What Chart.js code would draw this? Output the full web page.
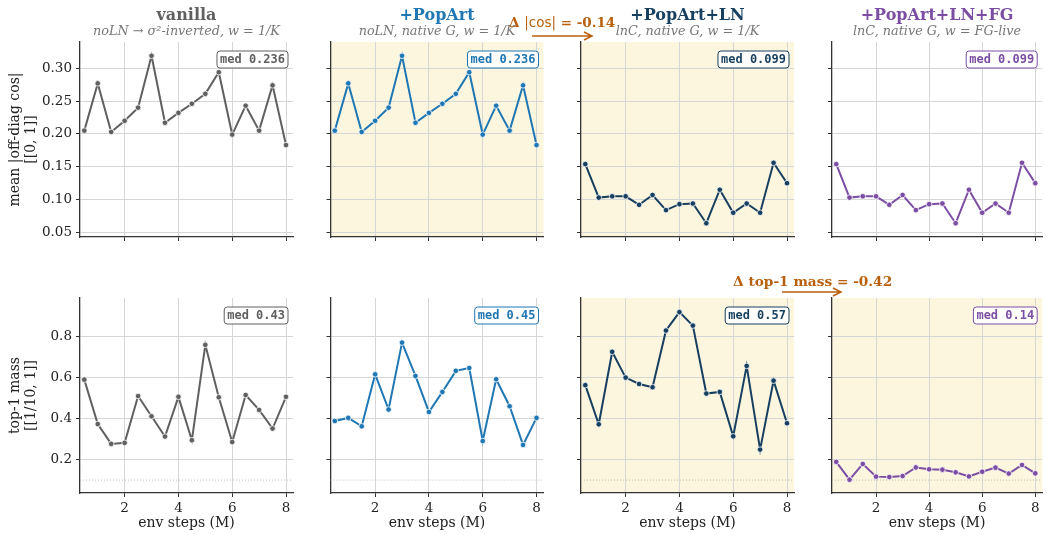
<!DOCTYPE html>
<html>
<head>
<meta charset="utf-8">
<title>Gradient direction and top-1 mass by variant</title>
<script src="https://cdn.jsdelivr.net/npm/chart.js"></script>
<style>
  html, body { margin: 0; padding: 0; background: #fff; }
  #wrap { position: relative; width: 1047px; height: 535px; }
  #wrap canvas { position: absolute; left: 0; top: 0; }
</style>
</head>
<body>
<div id="wrap"></div>
<script>
// env steps (M)
const steps = [0.5, 1, 1.5, 2, 2.5, 3, 3.5, 4, 4.5, 5, 5.5, 6, 6.5, 7, 7.5, 8];

// mean |off-diag cos|
const cosVanilla    = [0.205, 0.277, 0.203, 0.220, 0.240, 0.319, 0.217, 0.232, 0.246, 0.261, 0.294, 0.199, 0.243, 0.205, 0.274, 0.183];
const cosPopArt     = [0.205, 0.277, 0.203, 0.220, 0.240, 0.319, 0.217, 0.232, 0.246, 0.261, 0.294, 0.199, 0.243, 0.205, 0.274, 0.183];
const cosPopArtLN   = [0.154, 0.103, 0.105, 0.105, 0.092, 0.107, 0.084, 0.093, 0.094, 0.064, 0.115, 0.080, 0.094, 0.080, 0.156, 0.125];
const cosPopArtLNFG = [0.154, 0.103, 0.105, 0.105, 0.092, 0.107, 0.084, 0.093, 0.094, 0.064, 0.115, 0.080, 0.094, 0.080, 0.156, 0.125];

// top-1 mass
const massVanilla    = [0.591, 0.374, 0.277, 0.282, 0.511, 0.412, 0.313, 0.507, 0.295, 0.761, 0.505, 0.286, 0.516, 0.443, 0.352, 0.507];
const massPopArt     = [0.389, 0.404, 0.363, 0.617, 0.445, 0.772, 0.609, 0.433, 0.531, 0.634, 0.648, 0.291, 0.593, 0.461, 0.272, 0.404];
const massPopArtLN   = [0.564, 0.373, 0.727, 0.601, 0.570, 0.554, 0.831, 0.921, 0.855, 0.523, 0.531, 0.314, 0.658, 0.249, 0.586, 0.378];
const massPopArtLNFG = [0.189, 0.102, 0.179, 0.117, 0.115, 0.120, 0.162, 0.153, 0.151, 0.138, 0.118, 0.141, 0.161, 0.132, 0.174, 0.133];

const titles    = ['vanilla', '+PopArt', '+PopArt+LN', '+PopArt+LN+FG'];
const subtitles = ['noLN \u2192 \u03c3\u00b2-inverted, w = 1/K', 'noLN, native G, w = 1/K',
                   'lnC, native G, w = 1/K', 'lnC, native G, w = FG-live'];
const colors    = ['#606060', '#1f77b4', '#173f5f', '#7b4ea3'];
const medCos    = ['0.236', '0.236', '0.099', '0.099'];
const medMass   = ['0.43', '0.45', '0.57', '0.14'];
const shadeCos  = [false, true, true, false];
const shadeMass = [false, false, true, true];

const xTicks    = [2, 4, 6, 8];
const cosTicks  = [0.05, 0.10, 0.15, 0.20, 0.25, 0.30];
const massTicks = [0.2, 0.4, 0.6, 0.8];
const massFloor = 0.1;   // 1/10 uniform level

const cosSeries  = [cosVanilla, cosPopArt, cosPopArtLN, cosPopArtLNFG];
const massSeries = [massVanilla, massPopArt, massPopArtLN, massPopArtLNFG];

// page layout
const W = 1047, H = 535;
const colLeft = [80, 330.5, 581, 832];
const rowTop = [42, 298];
const panelW = 213, panelH = 195;
const yAxisW = 40, xAxisH = 30;
const ORANGE = '#b8600e';

const deco = {
  id: 'deco',
  beforeDraw(chart, args, o) {
    if (!o.shaded) return;
    const { ctx, chartArea: a } = chart;
    ctx.save();
    ctx.fillStyle = '#fdf6df';
    ctx.fillRect(a.left, a.top, a.right - a.left, a.bottom - a.top);
    ctx.restore();
  },
  beforeDatasetsDraw(chart, args, o) {
    if (o.floor == null) return;
    const { ctx, chartArea: a } = chart;
    const y = chart.scales.y.getPixelForValue(o.floor);
    ctx.save();
    ctx.strokeStyle = '#b0b0b0';
    ctx.lineWidth = 0.8;
    ctx.setLineDash([1, 2]);
    ctx.beginPath();
    ctx.moveTo(a.left, y);
    ctx.lineTo(a.right, y);
    ctx.stroke();
    ctx.restore();
  },
  afterDraw(chart, args, o) {
    const { ctx, chartArea: a } = chart;
    const cx = (a.left + a.right) / 2;
    ctx.save();
    if (o.title) {
      ctx.textAlign = 'center';
      ctx.textBaseline = 'alphabetic';
      ctx.fillStyle = o.color;
      ctx.font = 'bold 16px "DejaVu Serif"';
      ctx.fillText(o.title, cx, 20);
      ctx.fillStyle = '#777';
      ctx.font = 'italic 12.8px "DejaVu Serif"';
      ctx.fillText(o.subtitle, cx, 35);
    }
    // median box
    ctx.font = 'bold 12px "DejaVu Sans Mono"';
    const txt = 'med ' + o.med;
    const bw = ctx.measureText(txt).width + 6, bh = 17;
    const bx = a.right - 5 - bw, by = a.top + 9;
    ctx.beginPath();
    ctx.roundRect(bx, by, bw, bh, 3);
    ctx.fillStyle = 'rgba(255,255,255,0.9)';
    ctx.fill();
    ctx.strokeStyle = o.color;
    ctx.lineWidth = 1;
    ctx.stroke();
    ctx.fillStyle = o.color;
    ctx.textAlign = 'left';
    ctx.textBaseline = 'middle';
    ctx.fillText(txt, bx + 3, by + bh / 2 + 0.5);
    // axis labels
    ctx.fillStyle = '#222';
    ctx.font = '14px "DejaVu Serif"';
    ctx.textAlign = 'center';
    if (o.yLabel) {
      ctx.save();
      ctx.translate(15, (a.top + a.bottom) / 2);
      ctx.rotate(-Math.PI / 2);
      ctx.textBaseline = 'middle';
      ctx.fillText(o.yLabel[0], 0, 0);
      ctx.fillText(o.yLabel[1], 0, 16);
      ctx.restore();
    }
    if (o.xLabel) {
      ctx.textBaseline = 'middle';
      ctx.fillText(o.xLabel, cx, 523);
    }
    // delta annotations
    (o.notes || []).forEach(n => {
      ctx.fillStyle = ORANGE;
      ctx.textAlign = 'left';
      ctx.textBaseline = 'middle';
      let x = n.x;
      n.parts.forEach(p => {
        ctx.font = p.font;
        ctx.fillText(p.t, x, n.y);
        x += ctx.measureText(p.t).width;
      });
      ctx.strokeStyle = ORANGE;
      ctx.lineWidth = 1.5;
      ctx.beginPath();
      ctx.moveTo(n.ax1, n.ay);
      ctx.lineTo(n.ax2, n.ay);
      ctx.moveTo(n.ax2 - 8, n.ay - 4);
      ctx.lineTo(n.ax2, n.ay);
      ctx.lineTo(n.ax2 - 8, n.ay + 4);
      ctx.stroke();
    });
    ctx.restore();
  }
};

const notes = [
  { x: 509, y: 23, ax1: 532, ax2: 592, ay: 36,
    parts: [{ t: '\u0394 ', font: 'bold 13.5px "DejaVu Serif"' },
            { t: '|cos|', font: '13.5px "DejaVu Sans"' },
            { t: ' = -0.14', font: 'bold 13.5px "DejaVu Serif"' }] },
  { x: 733, y: 282, ax1: 782, ax2: 841, ay: 292,
    parts: [{ t: '\u0394 top-1 mass = -0.42', font: 'bold 13.7px "DejaVu Serif"' }] }
];

function makePanel(row, col) {
  const canvas = document.createElement('canvas');
  canvas.width = W; canvas.height = H;
  document.getElementById('wrap').appendChild(canvas);
  const top = row === 0;
  const values = top ? cosSeries[col] : massSeries[col];
  const yTicks = top ? cosTicks : massTicks;
  const color = colors[col];
  const last = row === 1 && col === 3;

  new Chart(canvas.getContext('2d'), {
    type: 'line',
    data: {
      datasets: [{
        data: steps.map((s, i) => ({ x: s, y: values[i] })),
        borderColor: color,
        backgroundColor: color,
        borderWidth: 2,
        pointRadius: 2.8,
        pointBorderColor: '#fff',
        pointBorderWidth: 0.8,
        pointBackgroundColor: color,
        tension: 0,
        fill: false
      }]
    },
    options: {
      responsive: false,
      animation: false,
      devicePixelRatio: 1,
      layout: {
        padding: {
          left: colLeft[col] - yAxisW,
          right: W - colLeft[col] - panelW,
          top: rowTop[row],
          bottom: H - rowTop[row] - panelH - xAxisH
        }
      },
      scales: {
        x: {
          type: 'linear',
          min: 0.34, max: 8.26,
          afterBuildTicks: s => { s.ticks = xTicks.map(v => ({ value: v })); },
          afterFit: s => { s.height = xAxisH; },
          grid: { color: '#d6d6d6', lineWidth: 1, tickColor: '#333', tickLength: 4 },
          border: { display: true, color: '#333', width: 1.3 },
          ticks: {
            display: !top,
            padding: 3,
            color: '#222',
            font: { family: 'DejaVu Serif', size: 13.5 },
            callback: v => String(v)
          }
        },
        y: {
          min: top ? 0.043 : 0.037,
          max: top ? 0.34 : 0.99,
          afterBuildTicks: s => { s.ticks = yTicks.map(v => ({ value: v })); },
          afterFit: s => { s.width = yAxisW; },
          grid: { color: '#d6d6d6', lineWidth: 1, tickColor: '#333', tickLength: 4 },
          border: { display: true, color: '#333', width: 1.3 },
          ticks: {
            display: col === 0,
            padding: 4,
            color: '#222',
            font: { family: 'DejaVu Serif', size: 13.5 },
            callback: v => v.toFixed(top ? 2 : 1)
          }
        }
      },
      plugins: {
        legend: { display: false },
        tooltip: { enabled: false },
        deco: {
          shaded: top ? shadeCos[col] : shadeMass[col],
          floor: top ? null : massFloor,
          color: color,
          title: top ? titles[col] : null,
          subtitle: subtitles[col],
          med: top ? medCos[col] : medMass[col],
          yLabel: col === 0 ? (top ? ['mean |off-diag cos|', '[[0, 1]]'] : ['top-1 mass', '[[1/10, 1]]']) : null,
          xLabel: top ? null : 'env steps (M)',
          notes: last ? notes : []
        }
      }
    },
    plugins: [deco]
  });
}

for (let r = 0; r < 2; r++) {
  for (let c = 0; c < 4; c++) makePanel(r, c);
}
</script>
</body>
</html>
